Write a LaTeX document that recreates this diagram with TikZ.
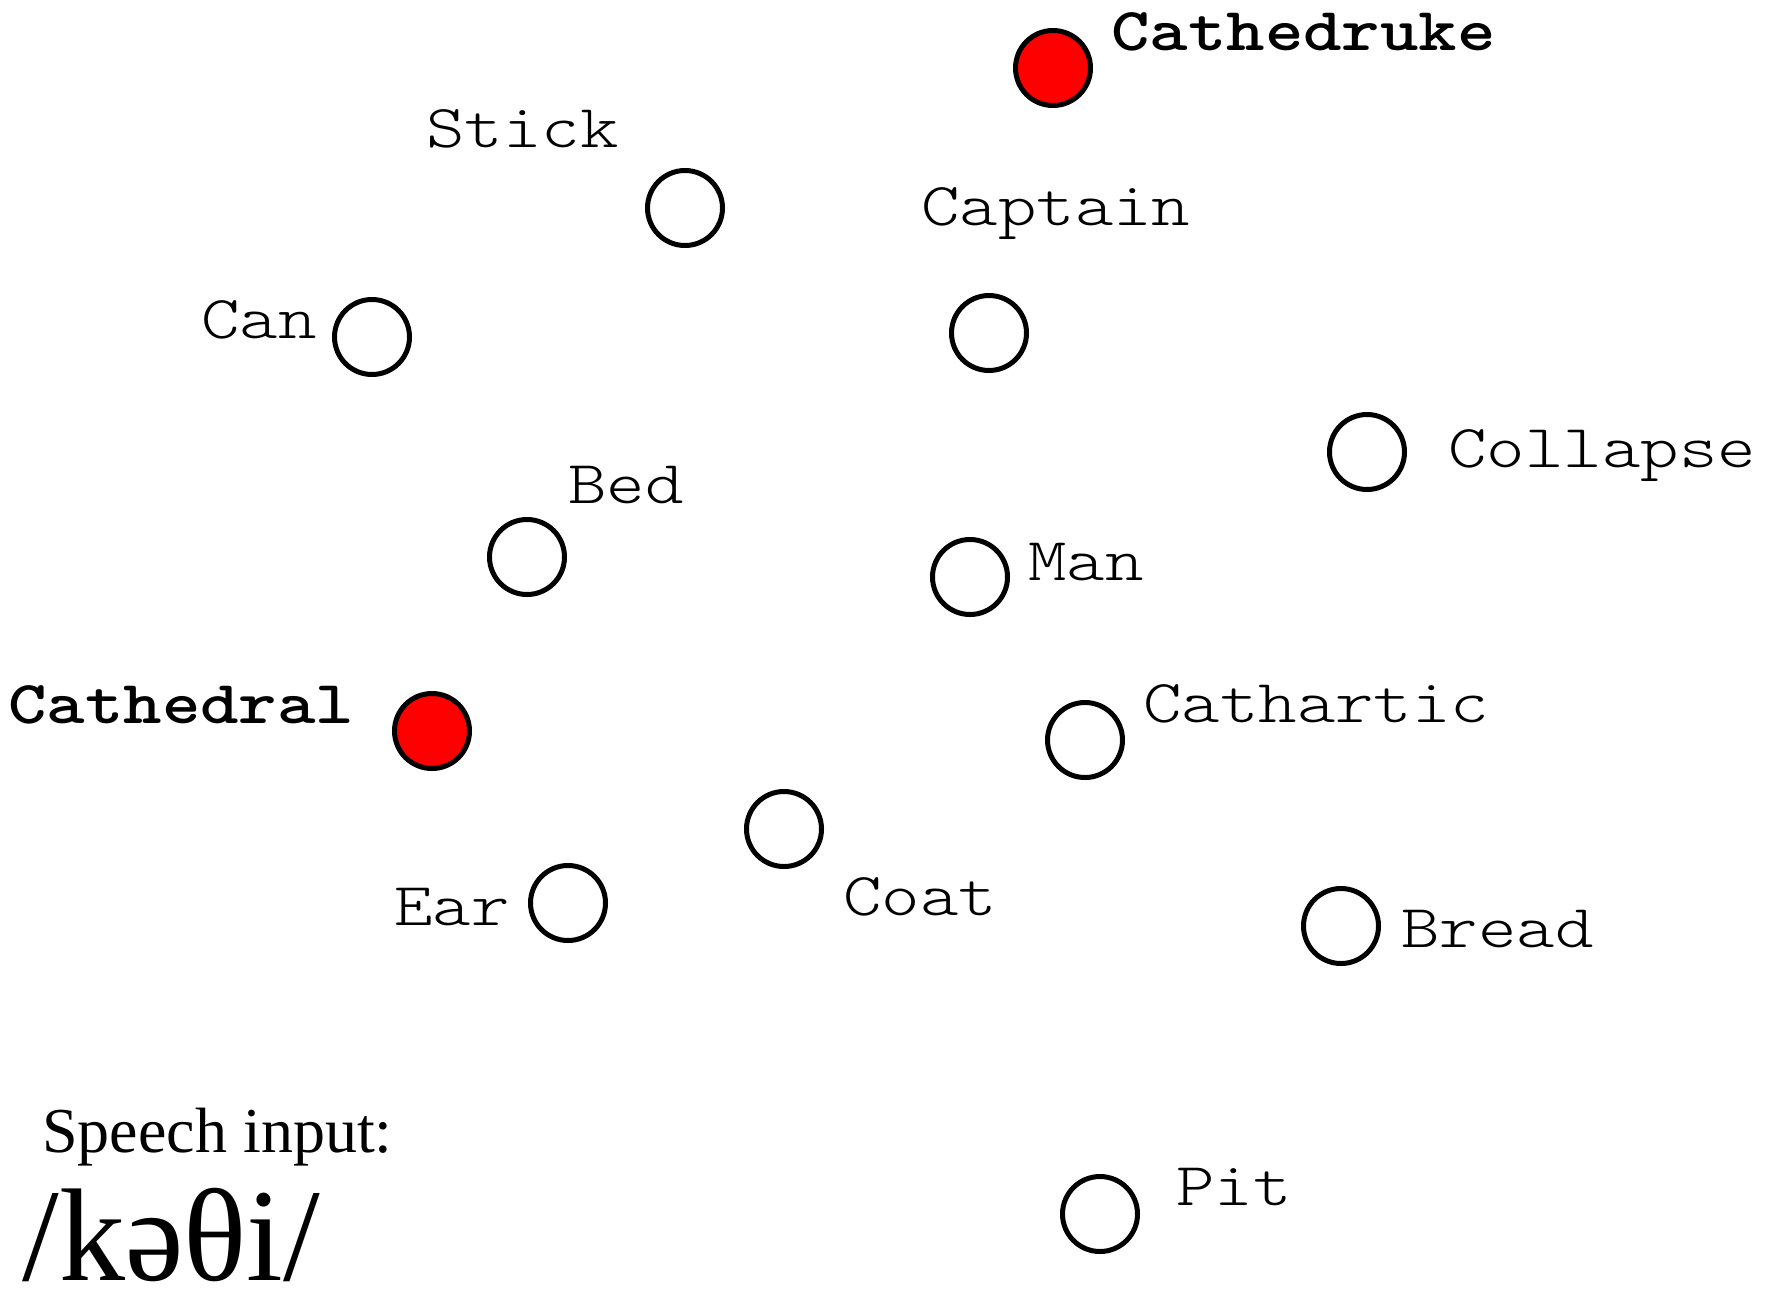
\documentclass[tikz,border=0pt]{standalone}
\usepackage{fontspec}
\setmainfont{Liberation Serif}
\newfontfamily\wordfont[FakeStretch=1.2]{lmmonolt10-regular.otf}
\newfontfamily\hitfont[FakeStretch=1.2]{lmmonolt10-bold.otf}
\begin{document}
\begin{tikzpicture}[x=0.5pt,y=-0.5pt,
    word/.style={circle,draw,line width=2.5pt,minimum size=37.5pt,inner sep=0pt,fill=white},
    hit/.style={word,fill=red},
    wordlbl/.style={anchor=base west,inner sep=0pt,font=\fontsize{30.5}{30.5}\wordfont},
    hitlbl/.style={wordlbl,font=\fontsize{30.5}{30.5}\hitfont}]
  \useasboundingbox (0,0) rectangle (1771,1291);
  % lexicon
  \draw
    (1053,68) node[hit] (cathedruke){}
    (685,208) node[word] (stick){}
    (989,333) node[word] (captain){}
    (372,337) node[word] (can){}
    (1367,452) node[word] (collapse){}
    (527,557) node[word] (bed){}
    (970,577) node[word] (man){}
    (432,731) node[hit] (cathedral){}
    (1085,740) node[word] (cathartic){}
    (784,829) node[word] (coat){}
    (568,903) node[word] (ear){}
    (1341,926) node[word] (bread){}
    (1100,1214) node[word] (pit){};
  % words
  \draw
    (1111,50) node[hitlbl] (cathedruke-l){Cathedruke}
    (426,147) node[wordlbl] (stick-l){Stick}
    (921,225) node[wordlbl] (captain-l){Captain}
    (201,338) node[wordlbl] (can-l){Can}
    (1448,467) node[wordlbl] (collapse-l){Collapse}
    (568,503) node[wordlbl] (bed-l){Bed}
    (1028,580) node[wordlbl] (man-l){Man}
    (8,723) node[hitlbl] (cathedral-l){Cathedral}
    (1143,722) node[wordlbl] (cathartic-l){Cathartic}
    (843,915) node[wordlbl] (coat-l){Coat}
    (394,925) node[wordlbl] (ear-l){Ear}
    (1401,947) node[wordlbl] (bread-l){Bread}
    (1176,1205) node[wordlbl] (pit-l){Pit};
  % input
  \node[anchor=base west,inner sep=0pt,font=\fontsize{32}{32}\selectfont] (speech) at (42,1152) {Speech input:};
  \node[anchor=base west,inner sep=0pt,text depth=0pt,font=\fontsize{66}{66}\selectfont] (phon) at (22,1280) {/kəθi/};
\end{tikzpicture}
\end{document}
